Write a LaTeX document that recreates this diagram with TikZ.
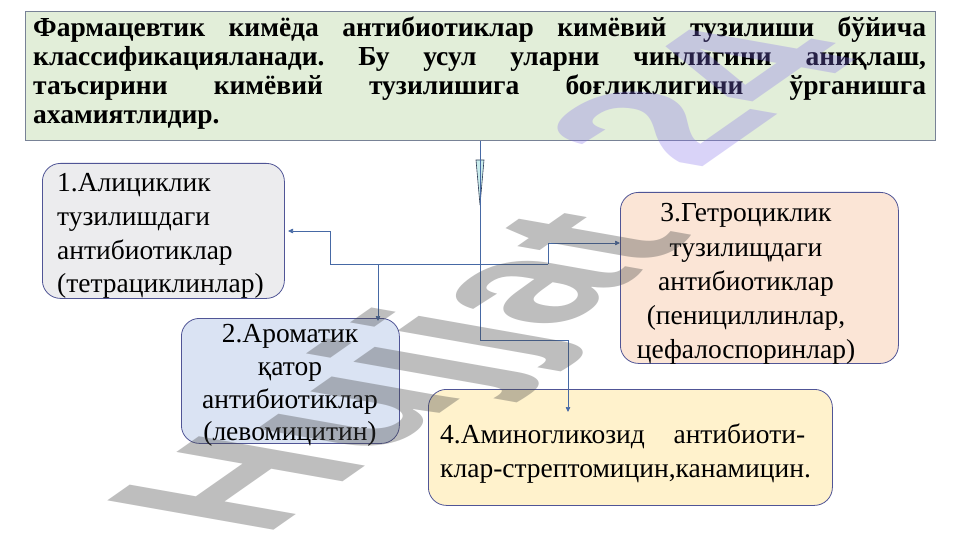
\documentclass[tikz,border=0pt]{standalone}
\usepackage{fontspec}
\setmainfont{Liberation Serif}
\newfontfamily\wmfont{Liberation Sans}
\usetikzlibrary{arrows.meta}
\definecolor{topfill}{RGB}{226,238,217}
\definecolor{topdraw}{RGB}{120,130,150}
\definecolor{boxdraw}{RGB}{80,85,150}
\definecolor{fillA}{RGB}{236,236,238}
\definecolor{fillB}{RGB}{218,227,243}
\definecolor{fillC}{RGB}{251,229,214}
\definecolor{fillD}{RGB}{255,242,204}
\definecolor{conncol}{RGB}{70,105,165}
\definecolor{trifill}{RGB}{200,236,236}
\definecolor{tridraw}{RGB}{45,60,85}
\definecolor{wmgray}{RGB}{69,69,69}
\definecolor{wmpurple}{RGB}{130,110,235}
\begin{document}
\begin{tikzpicture}[x=1pt,y=-1pt,
  box/.style={draw=boxdraw, line width=0.8pt, rounded corners=18pt, inner sep=0pt},
  toptxt/.style={inner sep=0pt, anchor=base west, font=\bfseries\fontsize{27.5}{29}\selectfont},
  txt/.style={inner sep=0pt, anchor=base, font=\fontsize{27.5}{33}\selectfont},
  ltxt/.style={txt, anchor=base west},
  arr/.style={draw=conncol, line width=0.7pt, -{Triangle[length=5pt,width=4.5pt]}},
  plain/.style={draw=conncol, line width=0.7pt},
  wm/.style={cm={1.276,0.894,-1.98,0.35,(0,0)}, inner sep=0pt,
             font=\wmfont\bfseries\fontsize{122}{122}\selectfont}]
\useasboundingbox[fill=white] (0,0) rectangle (961,540);
\frenchspacing
% top box
\node[draw=topdraw, fill=topfill, line width=0.8pt, minimum width=910pt, minimum height=129pt,
      anchor=north west, inner sep=0pt] (top) at (25,11) {};
\node[toptxt] (t1) at (33,37) {\makebox[893pt][s]{Фармацевтик кимёда антибиотиклар кимёвий тузилиши бўйича}};
\node[toptxt] (t2) at (33,66) {\makebox[893pt][s]{классификацияланади. Бу усул уларни чинлигини аниқлаш,}};
\node[toptxt] (t3) at (33,95) {\makebox[893pt][s]{таъсирини кимёвий тузилишига боғликлигини ўрганишга}};
\node[toptxt] (t4) at (33,124) {ахамиятлидир.};
% box 1
\node[box, fill=fillA, minimum width=242pt, minimum height=135pt, anchor=north west] (b1) at (42,163) {};
\node[ltxt] (b1a) at (57,192) {1.Алициклик};
\node[ltxt] (b1b) at (57,225.5) {тузилишдаги};
\node[ltxt] (b1c) at (57,259) {антибиотиклар};
\node[ltxt] (b1d) at (57,292.5) {(тетрациклинлар)};
% box 2
\node[box, fill=fillB, minimum width=218pt, minimum height=125pt, anchor=north west] (b2) at (181,318) {};
\node[txt] (b2a) at (290,342) {2.Ароматик};
\node[txt] (b2b) at (290,375) {қатор};
\node[txt] (b2c) at (290,408) {антибиотиклар};
\node[txt] (b2d) at (290,440) {(левомицитин)};
% box 3
\node[box, fill=fillC, minimum width=278pt, minimum height=171pt, anchor=north west] (b3) at (620,192) {};
\node[txt] (b3a) at (746,222) {3.Гетроциклик};
\node[txt] (b3b) at (746,256) {тузилищдаги};
\node[txt] (b3c) at (746,290) {антибиотиклар};
\node[txt] (b3d) at (746,324) {(пенициллинлар,};
\node[txt] (b3e) at (746,358) {цефалоспоринлар)};
% box 4
\node[box, fill=fillD, minimum width=404pt, minimum height=116pt, anchor=north west] (b4) at (428,389) {};
\node[ltxt] (b4a) at (440,443) {\makebox[365pt][s]{4.Аминогликозид антибиоти-}};
\node[ltxt] (b4b) at (440,477) {клар-стрептомицин,канамицин.};
% connectors
\coordinate (j4) at (480,340);
\coordinate (hl) at (330,264);
\coordinate (hr) at (548,264);
\coordinate (h2) at (378,264);
\coordinate (a1) at (288,231);
\coordinate (a3) at (620,243);
\coordinate (a4) at (568,412);
\coordinate (a2) at (378,321);
\draw[fill=trifill, draw=tridraw, line width=0.6pt] (476,160) -- (484,160) -- (480,205) -- cycle;
\draw[arr] (top.south -| j4) -- (j4) -| (a4);
\draw[plain] (hl) -- (hr);
\draw[arr] (hl) |- (a1);
\draw[arr] (h2) -- (a2);
\draw[arr] (hr) |- (a3);
% watermark
\node[wm, text=wmgray, text opacity=0.35] (wm1) at (417,375) {Hujjat};
\node[wm, text=wmpurple, text opacity=0.3] (wm2) at (700,95) {24};
\end{tikzpicture}
\end{document}
